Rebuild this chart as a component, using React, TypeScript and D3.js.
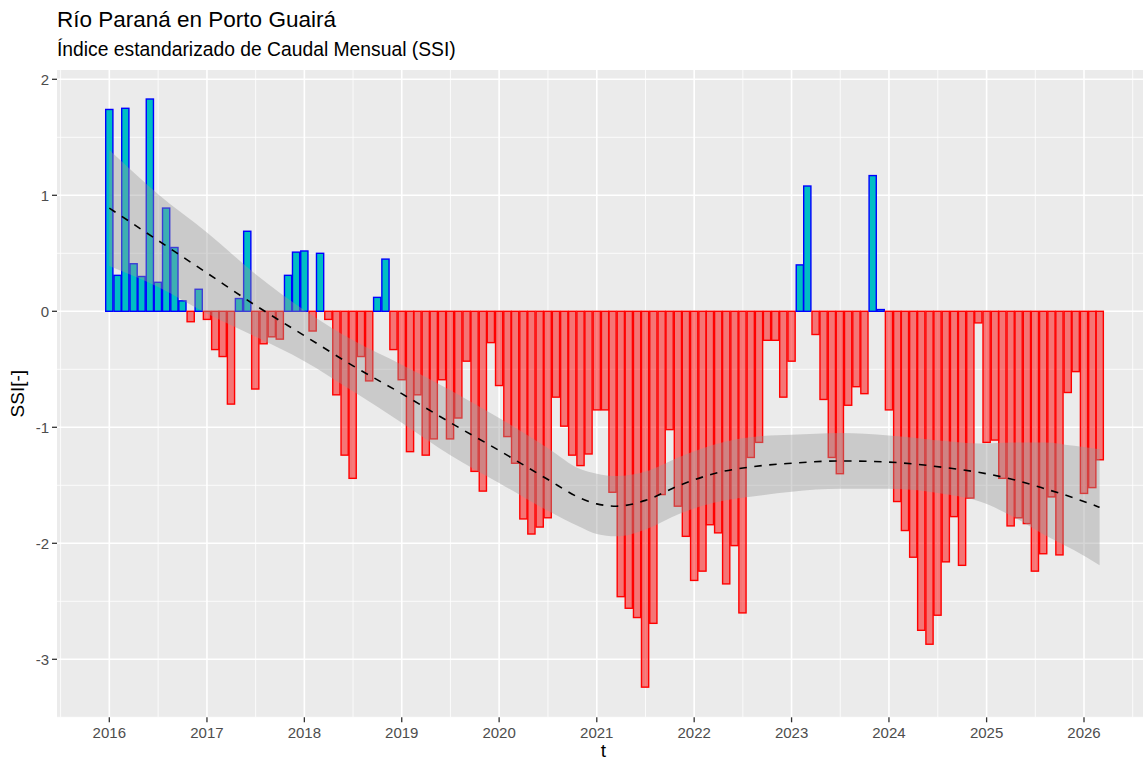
import React from "react";
import * as d3 from "d3";

// Monthly SSI values, starting January 2016 (one per month)
const startYear = 2016;
const ssiValues: number[] = [
  1.74, 0.31, 1.75, 0.41, 0.3, 1.83, 0.25, 0.89, 0.55, 0.09, -0.09, 0.19,
  -0.07, -0.33, -0.39, -0.8, 0.11, 0.69, -0.67, -0.28, -0.22, -0.24, 0.31, 0.51,
  0.52, -0.17, 0.5, -0.07, -0.72, -1.24, -1.44, -0.39, -0.6, 0.12, 0.45, -0.33,
  -0.59, -1.21, -0.72, -1.24, -1.1, -0.59, -1.1, -0.92, -0.43, -1.38, -1.55, -0.27,
  -0.64, -1.08, -1.31, -1.79, -1.92, -1.86, -1.78, -0.74, -0.99, -1.24, -1.33, -1.23,
  -0.85, -0.85, -1.56, -2.46, -2.56, -2.64, -3.24, -2.69, -1.58, -1.02, -1.68, -1.94,
  -2.32, -2.24, -1.84, -1.91, -2.35, -2.02, -2.6, -1.26, -1.13, -0.25, -0.25, -0.74,
  -0.43, 0.4, 1.08, -0.2, -0.76, -1.26, -1.4, -0.81, -0.65, -0.71, 1.17, 0.015,
  -0.85, -1.64, -1.89, -2.12, -2.75, -2.87, -2.62, -2.16, -1.77, -2.19, -1.61, -0.1,
  -1.13, -1.11, -1.44, -1.85, -1.78, -1.83, -2.24, -2.09, -1.6, -2.1, -0.7, -0.52,
  -1.57, -1.52, -1.28,
];

// Smoothed trend (loess): decimal year, fit, half-width of band
const smoothYears = [2016.0, 2016.5, 2017.0, 2017.5, 2018.0, 2018.5, 2019.0, 2019.5, 2020.0, 2020.5, 2020.83, 2021.0, 2021.2, 2021.5, 2021.85, 2022.2, 2022.7, 2023.0, 2023.5, 2024.0, 2024.6, 2024.93, 2025.27, 2025.6, 2025.9, 2026.16];
const smoothFit = [0.89, 0.61, 0.33, 0.05, -0.21, -0.47, -0.71, -0.96, -1.2, -1.45, -1.61, -1.66, -1.68, -1.63, -1.5, -1.4, -1.33, -1.31, -1.29, -1.3, -1.35, -1.39, -1.45, -1.53, -1.61, -1.69];
const smoothHalf = [0.5, 0.4, 0.35, 0.27, 0.22, 0.22, 0.25, 0.28, 0.28, 0.27, 0.25, 0.26, 0.26, 0.25, 0.245, 0.25, 0.255, 0.245, 0.24, 0.23, 0.23, 0.25, 0.32, 0.4, 0.45, 0.5];

const xTickYears = [2016, 2017, 2018, 2019, 2020, 2021, 2022, 2023, 2024, 2025, 2026];
const yTickValues = [-3, -2, -1, 0, 1, 2];

const titleText = "Río Paraná en Porto Guairá";
const subtitleText = "Índice estandarizado de Caudal Mensual (SSI)";
const xTitle = "t";
const yTitle = "SSI[-]";

const FONT = "'Liberation Sans', Arial, Helvetica, sans-serif";

function yearToDate(t: number): Date {
  const y = Math.floor(t);
  const start = Date.UTC(y, 0, 1);
  const end = Date.UTC(y + 1, 0, 1);
  return new Date(start + (t - y) * (end - start));
}

export default function App() {
  const W = 1143;
  const H = 760;
  const panelLeft = 57;
  const panelRight = 1150;

  const x = d3
    .scaleUtc()
    .domain([new Date(Date.UTC(2016, 0, 1)), new Date(Date.UTC(2026, 0, 1))])
    .range([109.3, 1084]);
  const y = d3.scaleLinear().domain([-3, 2]).range([659.3, 79.3]);
  const panelTop = y(2.08);
  const panelBottom = y(-3.5);

  const bars = ssiValues.map((v, i) => ({
    date: new Date(Date.UTC(startYear, i, 1)),
    value: v,
  }));
  const halfW = (x(new Date(Date.UTC(2016, 0, 28))) - x(new Date(Date.UTC(2016, 0, 1)))) / 2;

  const smooth = smoothYears.map((t, i) => ({
    date: yearToDate(t),
    fit: smoothFit[i],
    lo: smoothFit[i] - smoothHalf[i],
    hi: smoothFit[i] + smoothHalf[i],
  }));
  const area = d3
    .area<any>()
    .x((d) => x(d.date))
    .y0((d) => y(d.lo))
    .y1((d) => y(d.hi))
    .curve(d3.curveMonotoneX);
  const line = d3
    .line<any>()
    .x((d) => x(d.date))
    .y((d) => y(d.fit))
    .curve(d3.curveMonotoneX);

  const minorX: number[] = [];
  for (let yr = 2015; yr <= 2026; yr++) {
    const a = x(new Date(Date.UTC(yr, 0, 1)));
    const b = x(new Date(Date.UTC(yr + 1, 0, 1)));
    minorX.push((a + b) / 2);
  }
  const minorY = [-3.5, -2.5, -1.5, -0.5, 0.5, 1.5];

  return (
    <svg
      width={W}
      height={H}
      style={{ position: "absolute", left: 0, top: 0, display: "block" }}
      fontFamily={FONT}
    >
      <rect x={0} y={0} width={W} height={H} fill="#ffffff" />
      <text x={57} y={27} fontSize={22.5} fill="#000">{titleText}</text>
      <text x={57} y={56} fontSize={19.3} fill="#000">{subtitleText}</text>

      <rect x={panelLeft} y={panelTop} width={panelRight - panelLeft} height={panelBottom - panelTop} fill="#EBEBEB" />
      <g>
        {minorY.map((v) => (
          <line key={"my" + v} x1={panelLeft} x2={panelRight} y1={y(v)} y2={y(v)} stroke="#fff" strokeWidth={0.8} />
        ))}
        {minorX.map((v, i) => (
          <line key={"mx" + i} x1={v} x2={v} y1={panelTop} y2={panelBottom} stroke="#fff" strokeWidth={0.8} />
        ))}
        {yTickValues.map((v) => (
          <line key={"gy" + v} x1={panelLeft} x2={panelRight} y1={y(v)} y2={y(v)} stroke="#fff" strokeWidth={1.6} />
        ))}
        {xTickYears.map((yr) => {
          const px = x(new Date(Date.UTC(yr, 0, 1)));
          return <line key={"gx" + yr} x1={px} x2={px} y1={panelTop} y2={panelBottom} stroke="#fff" strokeWidth={1.6} />;
        })}
      </g>

      <g>
        {bars.map((b, i) => {
          const cx = x(b.date);
          const pos = b.value >= 0;
          const top = pos ? y(b.value) : y(0);
          const h = Math.abs(y(b.value) - y(0));
          return (
            <rect
              key={i}
              x={cx - halfW}
              y={top}
              width={halfW * 2}
              height={h}
              fill={pos ? "#00BEC4" : "rgba(255,0,0,0.5)"}
              stroke={pos ? "#0000FF" : "#FF0000"}
              strokeWidth={1.4}
            />
          );
        })}
      </g>

      <path d={area(smooth) || ""} fill="#999999" fillOpacity={0.4} stroke="none" />
      <path d={line(smooth) || ""} fill="none" stroke="#000" strokeWidth={1.6} strokeDasharray="7.5,7.5" />

      <g>
        {yTickValues.map((v) => (
          <g key={"ty" + v}>
            <line x1={panelLeft - 5} x2={panelLeft} y1={y(v)} y2={y(v)} stroke="#333333" strokeWidth={1.3} />
            <text x={panelLeft - 8} y={y(v)} dy="0.35em" textAnchor="end" fontSize={15} fill="#4D4D4D">
              {v}
            </text>
          </g>
        ))}
        {xTickYears.map((yr) => {
          const px = x(new Date(Date.UTC(yr, 0, 1)));
          return (
            <g key={"tx" + yr}>
              <line x1={px} x2={px} y1={panelBottom} y2={panelBottom + 5} stroke="#333333" strokeWidth={1.3} />
              <text x={px} y={738} textAnchor="middle" fontSize={15} fill="#4D4D4D">
                {yr}
              </text>
            </g>
          );
        })}
      </g>

      <text x={(panelLeft + panelRight) / 2} y={757} textAnchor="middle" fontSize={19} fill="#000">
        {xTitle}
      </text>
      <text
        transform={`translate(24, ${(panelTop + panelBottom) / 2}) rotate(-90)`}
        textAnchor="middle"
        fontSize={19}
        fill="#000"
      >
        {yTitle}
      </text>
    </svg>
  );
}
